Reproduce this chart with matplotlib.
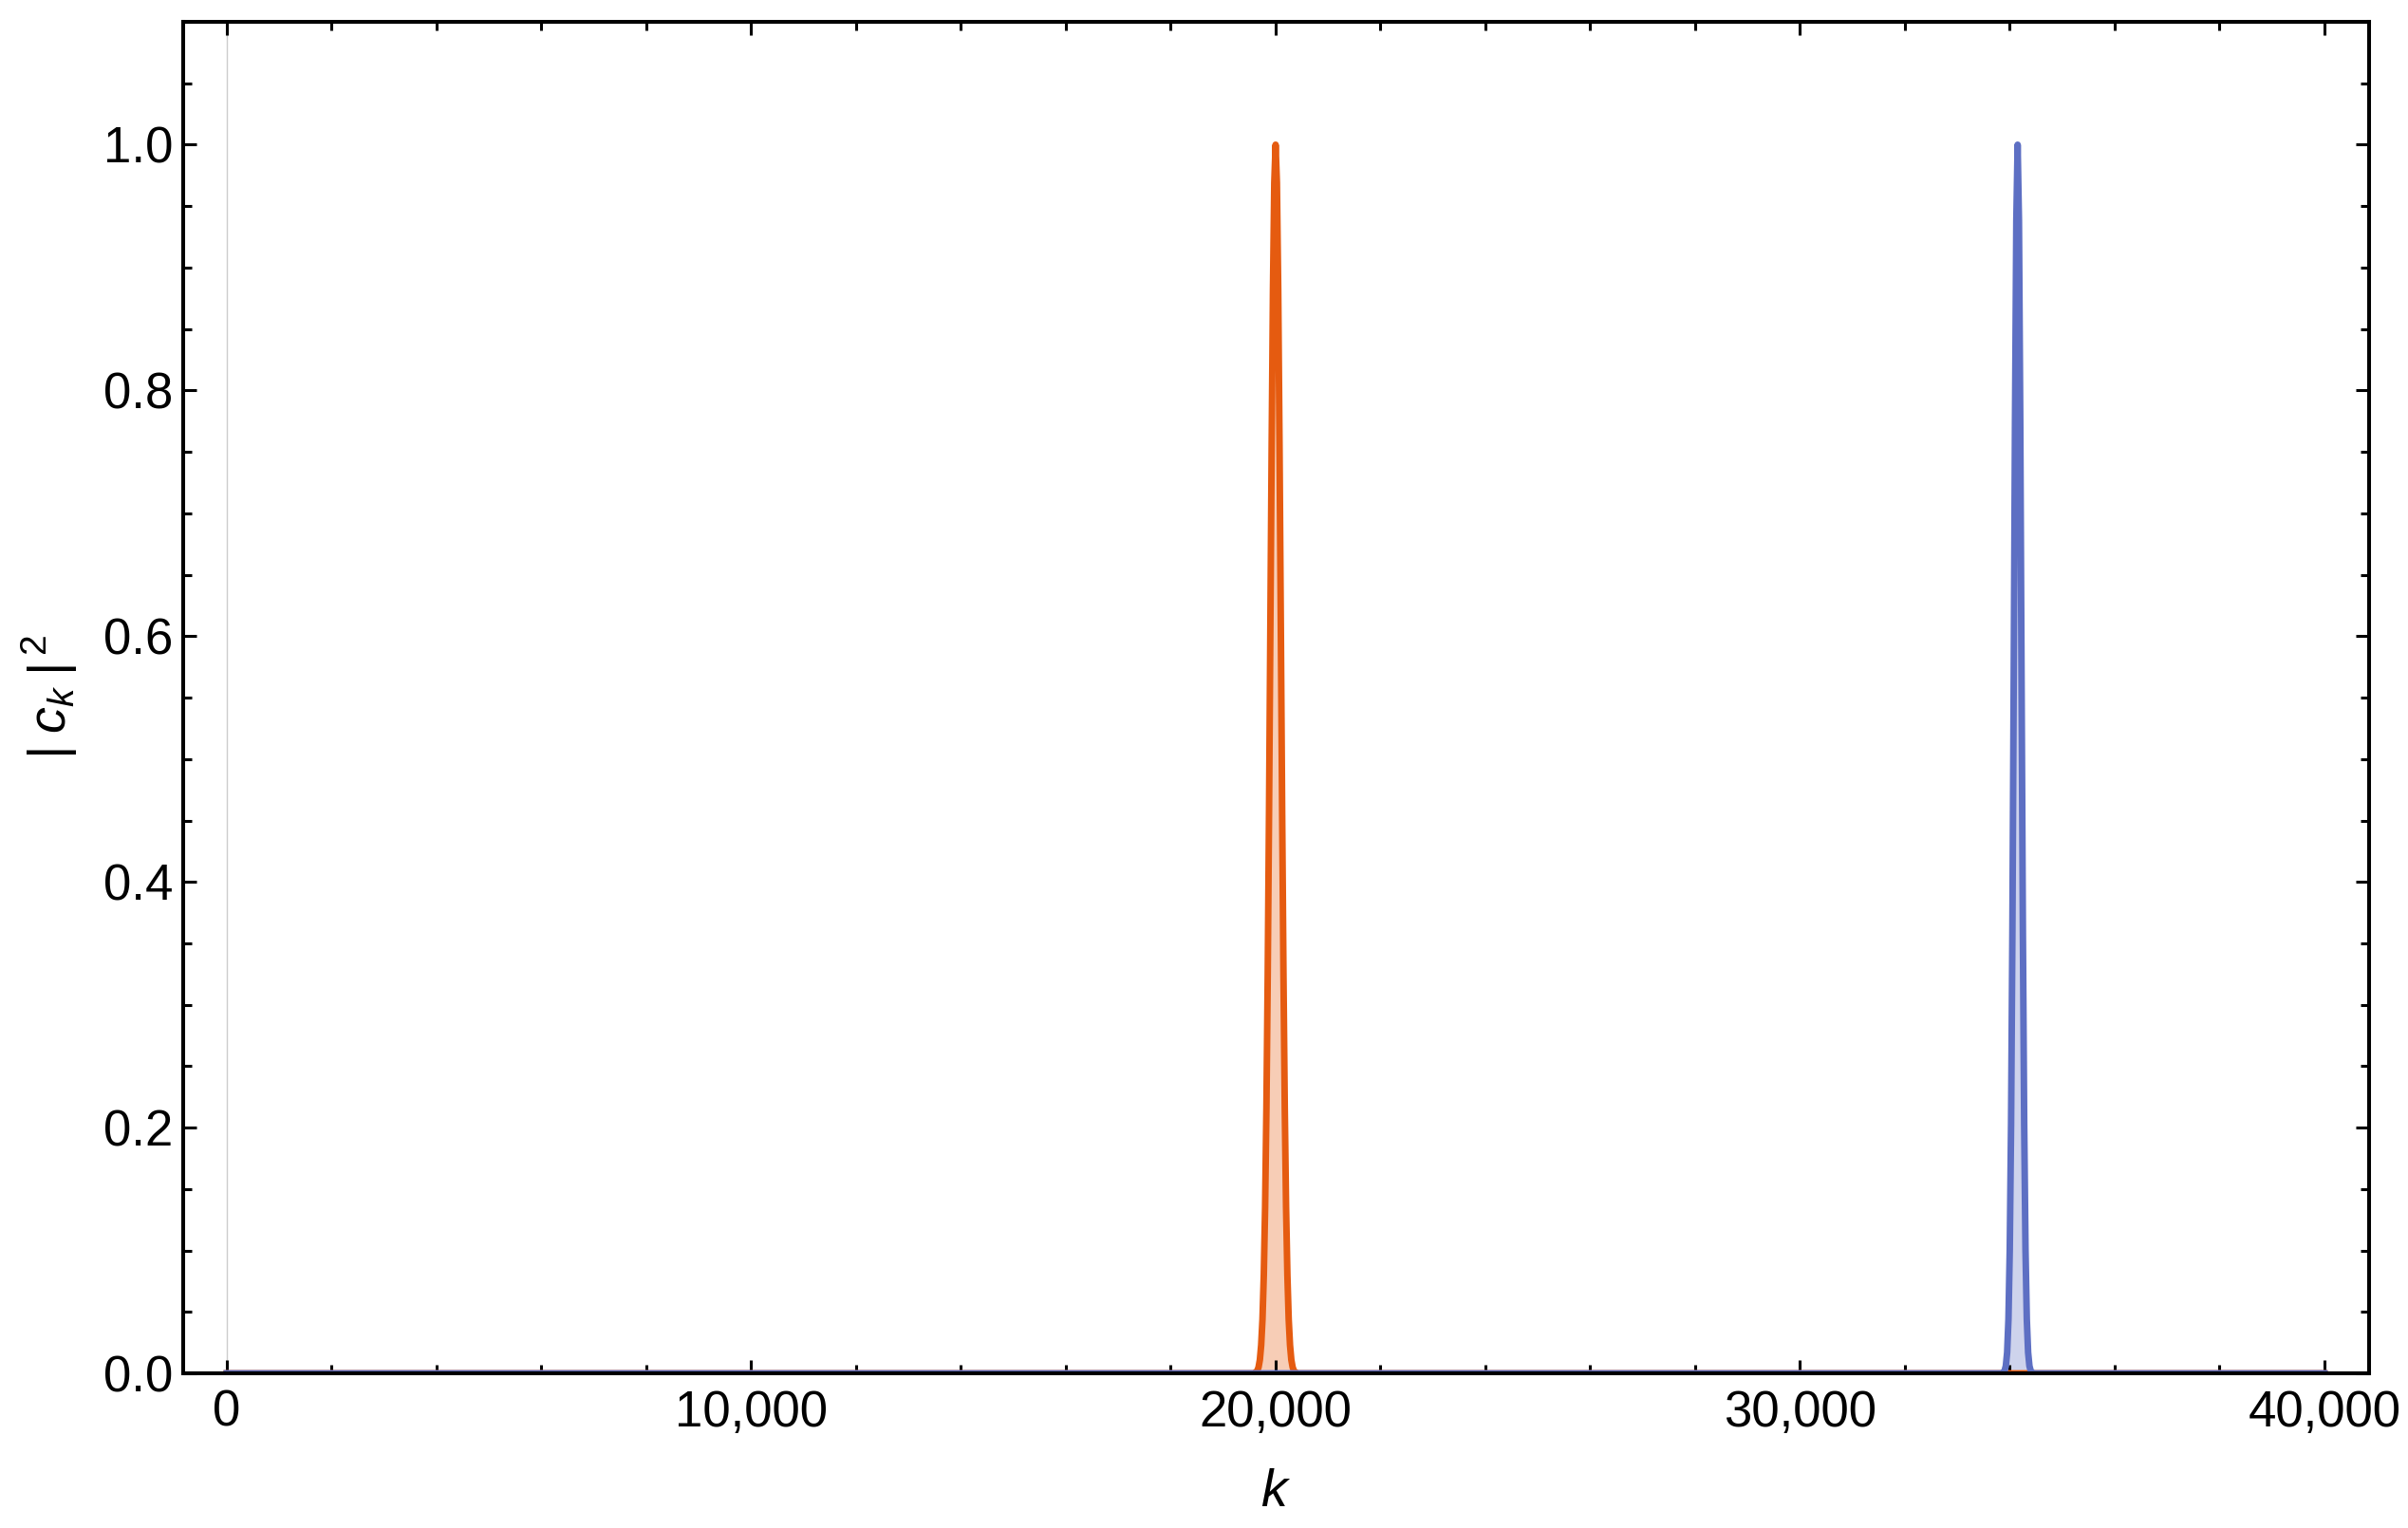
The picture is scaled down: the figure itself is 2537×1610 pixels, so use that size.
import matplotlib
matplotlib.use("Agg")
import matplotlib.pyplot as plt
from matplotlib.ticker import MultipleLocator, FuncFormatter

plt.rcParams['font.family'] = ['Liberation Sans', 'DejaVu Sans']
plt.rcParams['mathtext.fontset'] = 'custom'
plt.rcParams['mathtext.rm'] = 'Liberation Sans'
plt.rcParams['mathtext.it'] = 'Liberation Sans:italic'

# |c_k|^2; zero everywhere outside the two packets
orange_k = [0, 19600, 19625, 19650, 19675, 19700, 19725, 19750, 19775, 19800,
            19825, 19850, 19875, 19900, 19925, 19950, 19975, 20000, 20025,
            20050, 20075, 20100, 20125, 20150, 20175, 20200, 20225, 20250,
            20275, 20300, 20325, 20350, 20375, 20400, 40000]
orange_c2 = [0, 0, 0.001, 0.002, 0.005, 0.011, 0.023, 0.044, 0.080, 0.135,
             0.216, 0.325, 0.458, 0.607, 0.755, 0.882, 0.969, 1.000, 0.969,
             0.882, 0.755, 0.607, 0.458, 0.325, 0.216, 0.135, 0.080, 0.044,
             0.023, 0.011, 0.005, 0.002, 0.001, 0, 0]

blue_k = [0, 33850, 33875, 33900, 33925, 33950, 33975, 34000, 34025, 34050,
          34075, 34100, 34125, 34150, 34175, 34200, 34225, 34250, 34275,
          34300, 34325, 34350, 34375, 34400, 34425, 34450, 40000]
blue_c2 = [0, 0, 0.0005, 0.002, 0.006, 0.017, 0.044, 0.101, 0.203, 0.360,
           0.563, 0.775, 0.938, 1.000, 0.938, 0.775, 0.563, 0.360, 0.203,
           0.101, 0.044, 0.017, 0.006, 0.002, 0.0005, 0, 0]

orange = '#E55B10'
blue = '#5D6FC3'

fig = plt.figure(figsize=(12.685, 8.05), dpi=200)
ax = fig.add_axes([0.0761, 0.1012, 0.9077, 0.8845])

ax.axvline(0, color='#CCCCCC', lw=0.5, zorder=0)

ax.fill_between(orange_k, orange_c2, 0, color=orange, alpha=0.3, lw=0)
ax.plot(orange_k, orange_c2, color=orange, lw=2.5, solid_joinstyle='round')
ax.fill_between(blue_k, blue_c2, 0, color=blue, alpha=0.3, lw=0)
ax.plot(blue_k, blue_c2, color=blue, lw=2.5, solid_joinstyle='round')

ax.set_xlim(-830, 40850)
ax.set_ylim(0, 1.1)

ax.xaxis.set_major_locator(MultipleLocator(10000))
ax.xaxis.set_minor_locator(MultipleLocator(2000))
ax.yaxis.set_major_locator(MultipleLocator(0.2))
ax.yaxis.set_minor_locator(MultipleLocator(0.05))
ax.xaxis.set_major_formatter(FuncFormatter(lambda v, p: f"{int(v):,}"))
ax.yaxis.set_major_formatter(FuncFormatter(lambda v, p: f"{v:.1f}"))

ax.tick_params(which='both', direction='in', top=True, right=True,
               width=1.1, labelsize=19)
ax.tick_params(which='major', length=5)
ax.tick_params(which='minor', length=3.2)
ax.tick_params(axis='x', pad=6)
ax.tick_params(axis='y', pad=4)
for s in ax.spines.values():
    s.set_linewidth(1.45)

ax.set_xlabel(r'$k$', fontsize=20, labelpad=12)
ax.set_ylabel(r'$|\;c_k\;|^{\,2}$', fontsize=20, labelpad=9)

fig.savefig('out.png', dpi=200)
